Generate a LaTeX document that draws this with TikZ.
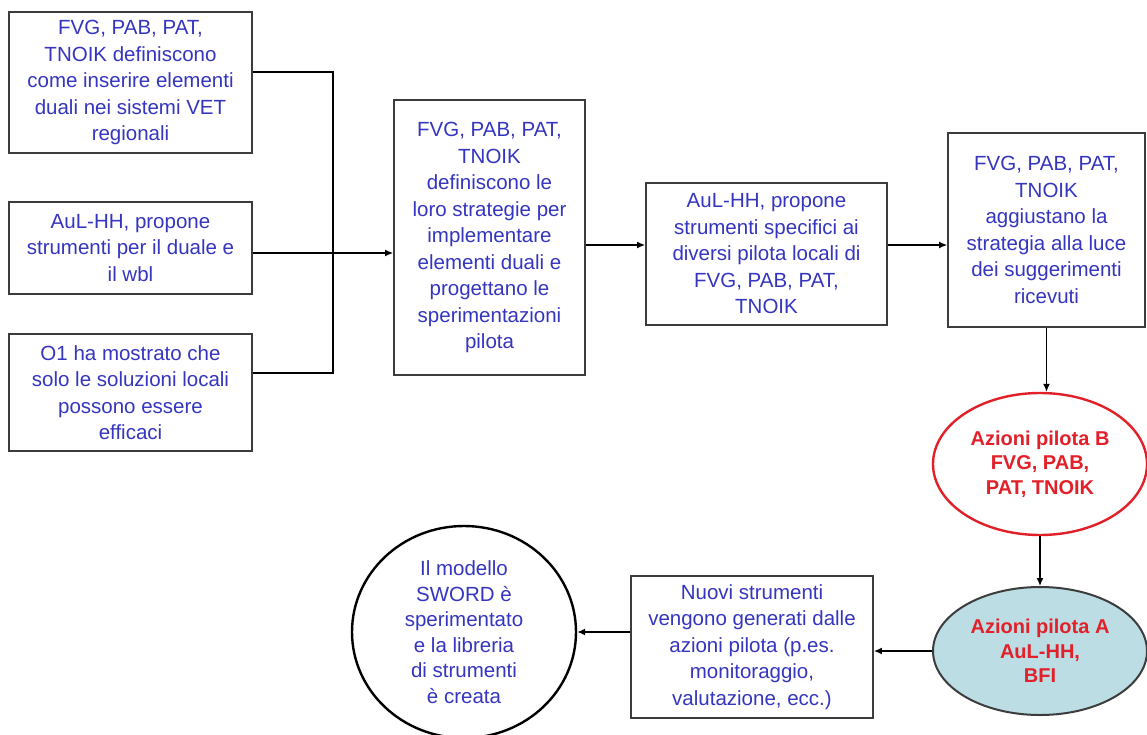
\documentclass[tikz,border=0pt]{standalone}
\usepackage{fontspec}
\setmainfont{Liberation Sans}
\usepackage{tikz}
\usetikzlibrary{arrows.meta,positioning,shapes.geometric}
\definecolor{swordBlue}{HTML}{3535C0}
\definecolor{swordRed}{HTML}{E2202A}
\definecolor{swordCyan}{HTML}{BCDDE3}
\definecolor{swordEdge}{HTML}{3C3C3C}

\begin{document}
\begin{tikzpicture}[x=1pt,y=-1pt,font=\fontsize{20.5}{26.5}\selectfont,
    box/.style={draw=swordEdge,line width=1.8pt,text=swordBlue,align=center,inner sep=2pt},
    pilot/.style={ellipse,line width=2pt,text=swordRed,align=center,inner sep=0pt,
                  font=\fontsize{20}{24.5}\selectfont\bfseries,minimum width=214pt},
    arr/.style={line width=1.4pt,-{Latex[length=8pt,width=7pt]}}]
  \path[use as bounding box,fill=white] (0,0) rectangle (1147,735);

  \node[box,minimum width=243pt,minimum height=141pt] (defin) at (130.5,82.5)
    {FVG, PAB, PAT,\\TNOIK definiscono\\come inserire elementi\\duali nei sistemi VET\\regionali};
  \node[box,minimum width=243pt,minimum height=92pt] (propone) at (130.5,248)
    {AuL-HH, propone\\strumenti per il duale e\\il wbl};
  \node[box,minimum width=243pt,minimum height=117pt] (locali) at (130.5,392.5)
    {O1 ha mostrato che\\solo le soluzioni locali\\possono essere\\efficaci};
  \node[box,minimum width=191pt,minimum height=275pt] (strat) at (489.5,237.5)
    {FVG, PAB, PAT,\\TNOIK\\definiscono le\\loro strategie per\\implementare\\elementi duali e\\progettano le\\sperimentazioni\\pilota};
  \node[box,minimum width=241pt,minimum height=142pt] (tools) at (766.5,254)
    {AuL-HH, propone\\strumenti specifici ai\\diversi pilota locali di\\FVG, PAB, PAT,\\TNOIK};
  \node[box,minimum width=197pt,minimum height=194pt] (adjust) at (1046.5,230)
    {FVG, PAB, PAT,\\TNOIK\\aggiustano la\\strategia alla luce\\dei suggerimenti\\ricevuti};
  \node[pilot,draw=swordRed,line width=2.4pt,minimum height=142pt] (pilotB) at (1040,464)
    {Azioni pilota B\\FVG, PAB,\\PAT, TNOIK};
  \node[pilot,draw=swordEdge,fill=swordCyan,minimum height=128pt] (pilotA) at (1040,651)
    {Azioni pilota A\\AuL-HH,\\BFI};
  \node[box,minimum width=242pt,minimum height=142pt] (newtools) at (752,647)
    {Nuovi strumenti\\vengono generati dalle\\azioni pilota (p.es.\\monitoraggio,\\valutazione, ecc.)};
  \node[ellipse,draw=black,line width=2.4pt,text=swordBlue,align=center,inner sep=0pt,
        minimum width=224pt,minimum height=212pt,font=\fontsize{20.5}{25.5}\selectfont] (sword) at (464,632)
    {Il modello\\SWORD è\\sperimentato\\e la libreria\\di strumenti\\è creata};

  \coordinate (join) at (333,253);
  \draw[line width=1.4pt] ([yshift=10.5pt]defin.east) -| (join) |- ([yshift=19.5pt]locali.east);
  \draw[arr] ([yshift=-5pt]propone.east) -- (join -| strat.west);
  \draw[arr] ([yshift=-7.5pt]strat.east) -- ([yshift=-7.5pt]strat.east -| tools.west);
  \draw[arr] ([yshift=9pt]tools.east) -- ([yshift=9pt]tools.east -| adjust.west);
  \draw[arr] (adjust.south) -- (adjust.south |- pilotB.north);
  \draw[arr] (pilotB.south) -- (pilotA.north);
  \draw[arr] (pilotA.west) -- (pilotA.west -| newtools.east);
  \draw[arr] (newtools.west |- sword.east) -- (sword.east);
\end{tikzpicture}
\end{document}
